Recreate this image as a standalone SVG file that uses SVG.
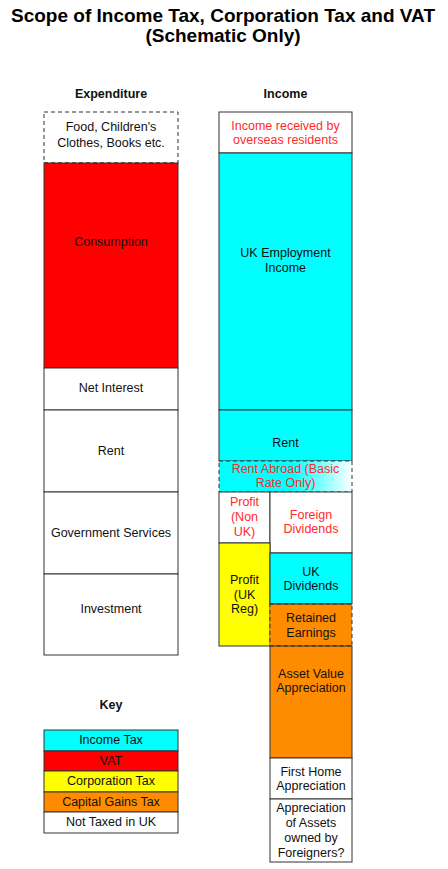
<svg xmlns="http://www.w3.org/2000/svg" width="448" height="869" viewBox="0 0 448 869">
<defs>
<linearGradient id="rentAbroadGrad" x1="0" y1="0" x2="1" y2="0">
<stop offset="0.55" stop-color="#00FFFF"/>
<stop offset="1" stop-color="#FFFFFF"/>
</linearGradient>
<style>
.box{stroke:#333333;stroke-width:1}
.dash{stroke-dasharray:4 3}
.w{fill:#FFFFFF}
.c{fill:#00FFFF}
.r{fill:#FF0000}
.y{fill:#FFFF00}
.o{fill:#FF8C00}
text{font-family:"Liberation Sans",Arial,Helvetica,sans-serif;font-size:12.5px;text-anchor:middle;fill:#111111}
.red{fill:#FF2A2A}
.h{font-weight:bold}
.title{font-size:19px;font-weight:bold;fill:#000000}
</style>
</defs>
<rect width="448" height="869" fill="#FFFFFF"/>
<g id="title">
<text class="title" x="223" y="22">Scope of Income Tax, Corporation Tax and VAT</text>
<text class="title" x="223" y="42">(Schematic Only)</text>
</g>
<g id="headers">
<text class="h" x="111" y="98">Expenditure</text>
<text class="h" x="285.5" y="98">Income</text>
</g>
<g id="expenditure">
<g id="food">
<rect class="box dash w" x="44" y="112" width="134" height="51"/>
<text x="111" y="131">Food, Children's</text>
<text x="111" y="147">Clothes, Books etc.</text>
</g>
<g id="consumption">
<rect class="box r" x="44" y="163" width="134" height="205"/>
<line x1="44" y1="163" x2="178" y2="163" stroke="#333333" stroke-dasharray="4 3"/>
<text x="111" y="246">Consumption</text>
</g>
<g id="net-interest">
<rect class="box w" x="44" y="368" width="134" height="42"/>
<text x="111" y="392">Net Interest</text>
</g>
<g id="rent-exp">
<rect class="box w" x="44" y="410" width="134" height="82"/>
<text x="111" y="455">Rent</text>
</g>
<g id="gov-services">
<rect class="box w" x="44" y="492" width="134" height="82"/>
<text x="111" y="537">Government Services</text>
</g>
<g id="investment">
<rect class="box w" x="44" y="574" width="134" height="81"/>
<text x="111" y="613">Investment</text>
</g>
</g>
<g id="income">
<g id="overseas-residents">
<rect class="box w" x="219" y="112" width="133" height="41"/>
<text class="red" x="285.5" y="130">Income received by</text>
<text class="red" x="285.5" y="144">overseas residents</text>
</g>
<g id="uk-employment">
<rect class="box c" x="219" y="153" width="133" height="257"/>
<text x="285.5" y="257">UK Employment</text>
<text x="285.5" y="272">Income</text>
</g>
<g id="rent-inc">
<rect class="box c" x="219" y="410" width="133" height="51"/>
<text x="285.5" y="447">Rent</text>
</g>
<g id="rent-abroad">
<rect class="box dash" fill="url(#rentAbroadGrad)" x="219" y="461" width="133" height="31"/>
<text class="red" x="285.5" y="473">Rent Abroad (Basic</text>
<text class="red" x="285.5" y="487">Rate Only)</text>
</g>
<g id="profit-non-uk">
<rect class="box w" x="219" y="492" width="51" height="51"/>
<text class="red" x="244.5" y="506">Profit</text>
<text class="red" x="244.5" y="521">(Non</text>
<text class="red" x="244.5" y="536">UK)</text>
</g>
<g id="foreign-dividends">
<rect class="box w" x="270" y="492" width="82" height="61"/>
<text class="red" x="311" y="519">Foreign</text>
<text class="red" x="311" y="533">Dividends</text>
</g>
<g id="profit-uk-reg">
<rect class="box y" x="219" y="543" width="51" height="103"/>
<text x="244.5" y="584">Profit</text>
<text x="244.5" y="599">(UK</text>
<text x="244.5" y="613">Reg)</text>
</g>
<g id="uk-dividends">
<rect class="box c" x="270" y="553" width="82" height="51"/>
<text x="311" y="576">UK</text>
<text x="311" y="590">Dividends</text>
</g>
<g id="retained-earnings">
<rect class="box dash o" x="270" y="604" width="82" height="42"/>
<line x1="270" y1="604" x2="352" y2="604" stroke="#333333"/>
<text x="311" y="622">Retained</text>
<text x="311" y="637">Earnings</text>
</g>
<g id="asset-value">
<rect class="box o" x="270" y="646" width="82" height="112"/>
<line x1="270" y1="646" x2="352" y2="646" stroke="#333333" stroke-dasharray="4 3"/>
<text x="311" y="678">Asset Value</text>
<text x="311" y="692">Appreciation</text>
</g>
<g id="first-home">
<rect class="box w" x="270" y="758" width="82" height="41"/>
<text x="311" y="776">First Home</text>
<text x="311" y="790">Appreciation</text>
</g>
<g id="foreign-assets">
<rect class="box w" x="270" y="799" width="82" height="63"/>
<text x="311" y="812">Appreciation</text>
<text x="311" y="827">of Assets</text>
<text x="311" y="842">owned by</text>
<text x="311" y="857">Foreigners?</text>
</g>
</g>
<g id="key">
<text class="h" x="111" y="709">Key</text>
<g id="key-income-tax">
<rect class="box c" x="44" y="730" width="134" height="21"/>
<text x="111" y="744">Income Tax</text>
</g>
<g id="key-vat">
<rect class="box r" x="44" y="751" width="134" height="20"/>
<text x="111" y="765">VAT</text>
</g>
<g id="key-corp-tax">
<rect class="box y" x="44" y="771" width="134" height="21"/>
<text x="111" y="785">Corporation Tax</text>
</g>
<g id="key-cgt">
<rect class="box o" x="44" y="792" width="134" height="20"/>
<text x="111" y="806">Capital Gains Tax</text>
</g>
<g id="key-not-taxed">
<rect class="box w" x="44" y="812" width="134" height="21"/>
<text x="111" y="826">Not Taxed in UK</text>
</g>
</g>
<g id="connectors"/>
</svg>
